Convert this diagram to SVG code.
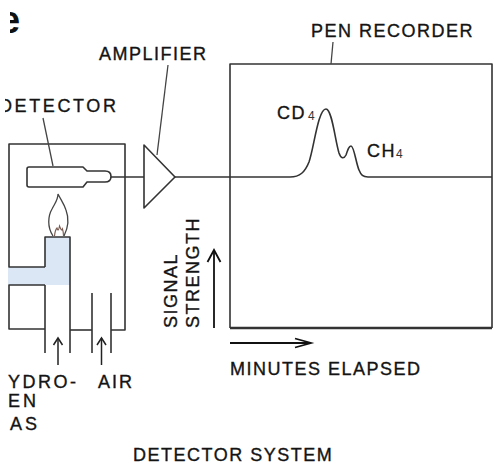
<svg xmlns="http://www.w3.org/2000/svg" width="494" height="465" viewBox="0 0 494 465">
  <style>
    .ln { fill: none; stroke: #333; stroke-width: 1.6; stroke-linejoin: round; }
    .thin { fill: none; stroke: #444; stroke-width: 1.3; }
    .t { font-family: "Liberation Sans", Arial, sans-serif; font-size: 18px; fill: #141414; stroke: #141414; stroke-width: 0.35; letter-spacing: 1.5px; }
    .sub { font-family: "Liberation Sans", Arial, sans-serif; font-size: 12px; fill: #333; }
    .gas { fill: #dbe7f4; }
  </style>
  <defs>
    <marker id="head-small" viewBox="0 0 8 10" markerWidth="8" markerHeight="10" refX="7.5" refY="5" orient="auto" markerUnits="userSpaceOnUse" overflow="visible">
      <path d="M0.5,0.5 L7.5,5 L0.5,9.5" fill="none" stroke="#222" stroke-width="1.5"/>
    </marker>
    <marker id="head-up" viewBox="0 0 13 14" markerWidth="13" markerHeight="14" refX="12.5" refY="7" orient="auto" markerUnits="userSpaceOnUse" overflow="visible">
      <path d="M0.5,0.5 L12.5,7 L0.5,13.5" fill="none" stroke="#111" stroke-width="1.8"/>
    </marker>
    <marker id="head-right" viewBox="0 0 17 10" markerWidth="17" markerHeight="10" refX="16.5" refY="5" orient="auto" markerUnits="userSpaceOnUse" overflow="visible">
      <path d="M0.5,0.5 L16.5,5 L0.5,9.5" fill="none" stroke="#111" stroke-width="1.8"/>
    </marker>
    <clipPath id="clip-e"><rect x="10" y="0" width="30" height="45"/></clipPath>
    <clipPath id="clip-det"><rect x="5" y="90" width="130" height="30"/></clipPath>
  </defs>

  <!-- partial panel letter at the top-left edge -->
  <text x="-1" y="33" clip-path="url(#clip-e)" style="font-family:'Liberation Sans',Arial,sans-serif;font-size:38px;font-weight:bold;fill:#111">e</text>

  <!-- flame ionisation detector housing -->
  <g id="detector">
    <rect class="gas" x="8" y="267" width="62" height="18"/>
    <rect class="gas" x="45" y="237" width="25" height="48"/>
    <path class="ln" d="M45 267 H9 V144 H125 V330 H111"/>
    <path class="ln" d="M45 285 H9 V329 H45"/>
    <path class="ln" d="M45 267 V237 H70 V353"/>
    <path class="ln" d="M45 285 V353"/>
    <path class="ln" d="M70 330 H92"/>
    <path class="ln" d="M92 293 V353 M111 293 V353"/>
    <!-- collector cell -->
    <path class="ln" d="M29 167 H83 L87 171 H105 Q111 171 111 176.5 Q111 182 105 182 H87 L83 187 H29 Q27 187 27 185 V169 Q27 167 29 167 Z"/>
    <!-- flame -->
    <path class="thin" d="M53 236 C47 227 48 216 52 209 C55 203 58 200 58 194 C61 200 64 204 66 210 C69 218 68 228 64 236"/>
    <path d="M54.5 236 C55 231 56 229 57 228 C58 231 58.5 231 59.5 226 C61 230 62 231 62.5 229 C63.5 232 63.5 234 63.5 236" fill="none" stroke="#7a5a50" stroke-width="1.1"/>
    <text class="t" x="-1" y="112" clip-path="url(#clip-det)" style="letter-spacing:2.6px">DETECTOR</text>
  </g>

  <!-- amplifier -->
  <g id="amplifier">
    <path class="ln" d="M144 145 L175 177 L144 208 Z"/>
    <text class="t" x="99" y="60">AMPLIFIER</text>
  </g>

  <!-- pen recorder chart -->
  <g id="recorder">
    <path class="ln" d="M230 328 V64 H492 V328"/>
    <path d="M230 328 H492" fill="none" stroke="#333" stroke-width="2.5"/>
    <text class="t" x="311" y="37">PEN RECORDER</text>
    <text class="t" x="277" y="119">CD</text>
    <text class="sub" x="308" y="120">4</text>
    <text class="t" x="367" y="157">CH</text>
    <text class="sub" x="396" y="158">4</text>
  </g>

  <!-- axes of the chart -->
  <g id="axes">
    <text class="t" transform="translate(177 328) rotate(-90)">SIGNAL</text>
    <text class="t" transform="translate(199 328) rotate(-90)">STRENGTH</text>
    <text class="t" x="230" y="375">MINUTES ELAPSED</text>
  </g>

  <!-- gas inlets -->
  <g id="inlets">
    <text class="t" x="8" y="388" style="letter-spacing:2.5px">YDRO-</text>
    <text class="t" x="8" y="407" style="letter-spacing:3px">EN</text>
    <text class="t" x="10" y="430" style="letter-spacing:3px">AS</text>
    <text class="t" x="98" y="388" style="letter-spacing:2px">AIR</text>
  </g>

  <text class="t" x="133" y="461">DETECTOR SYSTEM</text>

  <!-- connectors, leaders, arrows and the recorded trace -->
  <g id="connectors">
    <path class="ln" d="M111 177 H144"/>
    <path class="ln" d="M175 177 H290 C300 177 305 172 309 162 C314 148 318 109 326 109 C332 109 335 140 339 153 C341 159 344 159 346 155 C348 149 349 146 351 146 C354 146 356 163 359 170 C361 175 363 177 368 177 H492"/>
    <path class="thin" d="M43 118 L53 166"/>
    <path class="thin" d="M168 65 L157 155"/>
    <path class="thin" d="M333 42 L331 64"/>
    <path d="M58 365 V338" fill="none" stroke="#222" stroke-width="1.5" marker-end="url(#head-small)"/>
    <path d="M101.5 365 V338" fill="none" stroke="#222" stroke-width="1.5" marker-end="url(#head-small)"/>
    <path d="M214 328 V250" fill="none" stroke="#111" stroke-width="1.8" marker-end="url(#head-up)"/>
    <path d="M230 343 H311" fill="none" stroke="#111" stroke-width="1.8" marker-end="url(#head-right)"/>
  </g>
</svg>
